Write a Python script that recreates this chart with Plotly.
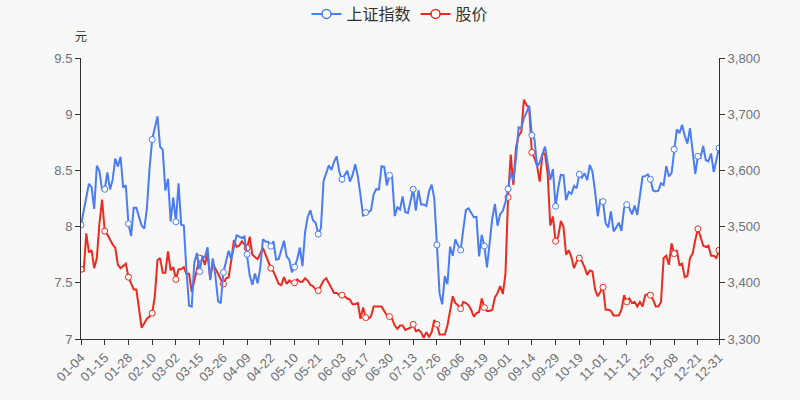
import pandas as pd
import plotly.graph_objects as go

# 2021 trading calendar (weekdays minus exchange holidays)
holidays = ["2021-01-01", "2021-02-11", "2021-02-12", "2021-02-15", "2021-02-16", "2021-02-17",
            "2021-04-05", "2021-05-03", "2021-05-04", "2021-05-05", "2021-06-14",
            "2021-09-20", "2021-09-21", "2021-10-01", "2021-10-04", "2021-10-05",
            "2021-10-06", "2021-10-07"]
days = pd.bdate_range("2021-01-01", "2021-12-31")
days = days[~days.isin(pd.to_datetime(holidays))]
dates = [d.strftime("%m-%d") for d in days]

index_values = [
    3502.96, 3528.68, 3550.88, 3576.21, 3570.11, 3531.50, 3608.34, 3598.65, 3565.90, 3566.38,
    3596.22, 3566.12, 3583.09, 3621.26, 3606.75, 3624.24, 3569.43, 3573.34, 3505.18, 3483.07,
    3533.68, 3533.49, 3517.31, 3501.86, 3496.33, 3532.44, 3603.49, 3655.09, 3675.36, 3696.17,
    3642.44, 3636.36, 3564.08, 3585.05, 3509.08,
    3551.40, 3508.59, 3576.90, 3503.49, 3501.99, 3421.41, 3359.29, 3357.74, 3436.83, 3453.08,
    3419.95, 3446.73, 3445.55, 3463.07, 3404.66, 3443.44, 3411.51, 3367.06, 3363.59, 3418.33,
    3435.30, 3457.07, 3441.91,
    3466.33, 3484.39, 3482.48, 3479.63, 3482.55, 3450.68, 3412.95, 3396.47, 3416.73, 3398.99,
    3426.62, 3477.55, 3472.93, 3472.94, 3465.11, 3474.17, 3441.17, 3442.61, 3457.07, 3474.90,
    3446.86,
    3441.28, 3418.87, 3427.99, 3441.85, 3462.75, 3429.54, 3490.38, 3517.62, 3529.01, 3510.96,
    3506.94, 3486.56, 3497.28, 3581.34, 3593.36, 3608.85, 3600.78, 3615.48,
    3624.71, 3597.14, 3584.22, 3591.84, 3599.54, 3580.11, 3591.40, 3610.86, 3589.75, 3556.56,
    3518.33, 3525.10, 3525.60, 3529.18, 3557.41, 3566.65, 3566.22, 3607.56, 3606.37, 3573.18,
    3591.20,
    3588.78, 3518.76, 3534.32, 3530.26, 3553.72, 3525.50, 3524.09, 3547.84, 3566.59, 3528.50,
    3564.59, 3539.30, 3539.12, 3536.79, 3562.70, 3574.73, 3550.40, 3467.44, 3381.18, 3361.59,
    3411.72, 3397.36,
    3464.29, 3447.99, 3477.22, 3466.56, 3458.23, 3494.63, 3529.93, 3532.62, 3524.74, 3516.76,
    3517.34, 3446.98, 3485.29, 3465.55, 3427.33, 3477.13, 3514.47, 3540.38, 3501.66, 3522.16,
    3528.15, 3543.94,
    3567.10, 3597.04, 3581.73, 3621.86, 3676.59, 3675.19, 3693.13, 3703.11, 3715.37, 3662.60,
    3656.22, 3607.09, 3613.97, 3628.49, 3642.22, 3613.07, 3582.83, 3602.22, 3536.29, 3568.17,
    3592.17, 3591.71, 3546.94, 3561.76, 3558.28, 3572.37, 3568.14, 3593.15, 3587.00, 3594.78,
    3582.60, 3609.86, 3597.64, 3562.31, 3518.42, 3547.34,
    3544.48, 3505.63, 3498.54, 3526.87, 3491.57, 3498.63, 3507.00, 3492.46, 3532.79, 3539.10,
    3533.30, 3521.79, 3537.37, 3520.71, 3560.37, 3589.09, 3589.75, 3592.70, 3584.18, 3564.09,
    3562.70, 3563.89,
    3576.89, 3573.84, 3607.43, 3589.31, 3595.09, 3637.57, 3673.04, 3666.35, 3681.08, 3661.53,
    3647.63, 3675.02, 3632.36, 3593.60, 3625.13, 3622.62, 3643.34, 3618.05, 3615.97, 3630.11,
    3597.00, 3619.19, 3639.78,
]

price_values = [
    7.62, 7.60, 7.94, 7.77, 7.79, 7.63, 7.72, 8.03, 8.24, 7.96,
    7.93, 7.88, 7.84, 7.81, 7.66, 7.63, 7.65, 7.67, 7.55, 7.49,
    7.44, 7.44, 7.27, 7.10, 7.14, 7.18, 7.20, 7.23, 7.38, 7.70,
    7.72, 7.59, 7.59, 7.78, 7.61, 7.64, 7.53, 7.62, 7.62, 7.64,
    7.58, 7.58, 7.42, 7.52, 7.61, 7.72, 7.73, 7.66, 7.76, 7.54,
    7.67, 7.63, 7.58, 7.53, 7.49, 7.54, 7.55, 7.70, 7.88, 7.82,
    7.83, 7.87, 7.84, 7.81, 7.91, 7.75, 7.73, 7.71, 7.76, 7.81,
    7.75, 7.69, 7.63, 7.60, 7.54, 7.49, 7.48, 7.55, 7.49, 7.52,
    7.50, 7.50, 7.53, 7.51, 7.51, 7.54, 7.52, 7.48, 7.47, 7.44,
    7.43, 7.47, 7.52, 7.54, 7.50, 7.45, 7.41, 7.41, 7.39, 7.39,
    7.38, 7.36, 7.35, 7.31, 7.31, 7.32, 7.18, 7.28, 7.19, 7.18,
    7.20, 7.29, 7.29, 7.29, 7.29, 7.25, 7.21, 7.20, 7.18, 7.12,
    7.09, 7.12, 7.12, 7.08, 7.09, 7.10, 7.13, 7.07, 7.08, 7.06,
    7.01, 7.06, 7.02, 7.06, 7.17, 7.13, 7.04, 7.04, 7.04, 7.12,
    7.26, 7.38, 7.32, 7.30, 7.27, 7.33, 7.32, 7.30, 7.26, 7.20,
    7.23, 7.24, 7.36, 7.28, 7.25, 7.25, 7.26, 7.37, 7.41, 7.47,
    7.40, 7.58, 8.26, 8.64, 8.37, 8.70, 8.81, 8.84, 9.13, 9.08,
    9.06, 8.66, 8.61, 8.54, 8.40, 8.64, 8.65, 8.47, 8.01, 8.09,
    7.87, 7.91, 8.05, 8.00, 7.75, 7.79, 7.73, 7.63, 7.69, 7.72,
    7.69, 7.64, 7.57, 7.61, 7.60, 7.44, 7.38, 7.42, 7.46, 7.26,
    7.26, 7.25, 7.21, 7.21, 7.21, 7.26, 7.39, 7.33, 7.36, 7.32,
    7.33, 7.29, 7.33, 7.29, 7.39, 7.40, 7.39, 7.35, 7.29, 7.29,
    7.33, 7.72, 7.74, 7.66, 7.85, 7.76, 7.79, 7.66, 7.67, 7.55,
    7.56, 7.72, 7.76, 7.88, 7.98, 7.91, 7.83, 7.82, 7.83, 7.74,
    7.74, 7.72, 7.79,
]

series_names = ["上证指数", "股价"]
series_colors = ["#4a7cf6", "#ee2a1e"]

n = len(dates)
shown = [i for i in range(n) if i % 9 == 0 or i == n - 1]
tick_labels = [dates[i] for i in shown]
marker_opacity = [1 if (i % 9 == 0 or i == n - 1) else 0 for i in range(n)]

font_family = "Liberation Sans, Noto Sans CJK SC, sans-serif"

fig = go.Figure()
for name, vals, color, axis in [(series_names[0], index_values, series_colors[0], "y2"),
                                (series_names[1], price_values, series_colors[1], "y")]:
    fig.add_trace(go.Scatter(
        x=dates, y=vals, name=name, yaxis=axis, showlegend=False, legendgroup=name,
        mode="lines+markers",
        line=dict(color=color, width=2),
        marker=dict(symbol="circle", size=6, color="#ffffff", opacity=marker_opacity,
                    line=dict(color=color, width=1)),
    ))
# legend entries (line with hollow circle)
for name, color, axis in [(series_names[0], series_colors[0], "y2"),
                          (series_names[1], series_colors[1], "y")]:
    fig.add_trace(go.Scatter(
        x=[None], y=[None], name=name, yaxis=axis, legendgroup=name,
        mode="lines+markers",
        line=dict(color=color, width=2),
        marker=dict(symbol="circle", size=9, color="#ffffff",
                    line=dict(color=color, width=1.5)),
    ))

axis_color = "#333333"
label_color = "#6e7079"
tick_size = 13

fig.update_layout(
    width=800, height=400,
    margin=dict(l=81, r=81, t=58, b=61),
    paper_bgcolor="#f8f8f8", plot_bgcolor="#f8f8f8",
    font=dict(family=font_family, size=tick_size, color=label_color),
    showlegend=True,
    legend=dict(orientation="h", x=0.5, xanchor="center", y=0.965, yanchor="middle",
                yref="container", font=dict(size=16, color="#333333"),
                itemwidth=30, bgcolor="rgba(0,0,0,0)"),
    xaxis=dict(
        type="category", range=[0, n - 1],
        tickmode="array", tickvals=tick_labels, ticktext=tick_labels,
        tickangle=-45, ticks="outside", ticklen=5, tickcolor=axis_color,
        showline=True, linecolor=axis_color, linewidth=1,
        showgrid=False, zeroline=False,
        tickfont=dict(size=tick_size, color=label_color),
    ),
    yaxis=dict(
        range=[7, 9.5], dtick=0.5, tick0=7,
        ticks="outside", ticklen=5, tickcolor=axis_color,
        showline=True, linecolor=axis_color, linewidth=1,
        showgrid=False, zeroline=False,
        tickfont=dict(size=tick_size, color=label_color),
    ),
    yaxis2=dict(
        range=[3300, 3800], dtick=100, tick0=3300, overlaying="y", side="right",
        tickformat=",d",
        ticks="outside", ticklen=5, tickcolor=axis_color,
        showline=True, linecolor=axis_color, linewidth=1,
        showgrid=False, zeroline=False,
        tickfont=dict(size=tick_size, color=label_color),
    ),
    annotations=[dict(text="元", x=0, xref="paper", xanchor="center",
                      y=1.0, yref="paper", yanchor="bottom", yshift=12,
                      showarrow=False, font=dict(size=12, color="#333333"))],
)

fig.write_html("out.html")
